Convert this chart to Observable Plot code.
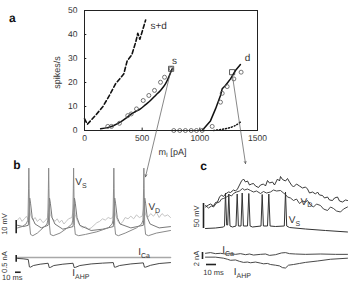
<!DOCTYPE html>
<html><head><meta charset="utf-8">
<script src="https://cdn.jsdelivr.net/npm/d3@7"></script>
<script src="https://cdn.jsdelivr.net/npm/@observablehq/plot@0.6"></script>
<style>
body{margin:0;background:#fff}
#fig{position:relative;width:349px;height:281px;overflow:hidden;background:#fff}
#fig svg{position:absolute;left:0;top:0}
#fig text{text-rendering:geometricPrecision}
</style></head><body><div id="fig"></div>
<script>
// ---------- Panel a: firing rate vs injected current ----------
const xTicks = [0, 500, 1000, 1500];
const yTicks = [0, 10, 20, 30, 40, 50];
const sdCurrent = [0, 25, 90, 160, 215, 270, 340, 370, 410, 445, 462, 480, 530];
const sdRate    = [4.9, 2.6, 6, 10, 14.5, 19.5, 23.5, 29, 31.5, 37, 40.5, 38, 46];
const sCurveCurrent = [140, 200, 254, 320, 370, 410, 440, 485, 530, 572, 620, 659, 702, 760];
const sCurveRate    = [0.7, 1.2, 2.1, 3.8, 5.5, 7, 7.8, 9, 10.8, 12.5, 14.8, 16.7, 19.4, 25.7];
const sObsCurrent = [202, 234, 303, 375, 405, 451, 509, 558, 607, 659, 694, 751];
const sObsRate    = [1.7, 1.7, 3, 6.2, 6.9, 9, 12.5, 14.6, 16.7, 20.1, 22.2, 25.7];
const dCurveCurrent = [1020, 1092, 1136, 1179, 1194, 1222, 1266, 1309, 1352];
const dCurveRate    = [0, 4, 9, 14.6, 17.4, 18.75, 21.5, 25, 27.5];
const dObsCurrent = [774, 826, 875, 925, 971, 1020, 1107, 1179, 1194, 1237, 1295, 1358];
const dObsRate    = [0, 0, 0, 0, 0, 0, 1.7, 11.8, 15.5, 18.3, 21.5, 24.3];
const dDotCurrent = [1120, 1180, 1230, 1280, 1320, 1352];
const dDotRate    = [0, 0.4, 0.8, 1.5, 2.4, 3.5];
const selCurrent = [751, 1280];
const selRate    = [25.7, 24.3];

// ---------- Panel b: traces (t in ms, V in mV, I in nA) ----------
const bVs = [[0,-60],[8,-59],[15,-57],[18.5,-54],[19.5,-30],[20,-14],[20.5,-30],[21.5,-58],[23,-65],[27,-66],[35,-64],[45,-60],[52,-57],[53.5,-54],[54.5,-30],[55,-14],[55.5,-30],[56.5,-58],[58,-65],[63,-66],[75,-64],[88,-60],[96,-57],[97.5,-54],[98.5,-30],[99,-14],[99.5,-30],[100.5,-58],[102,-65],[108,-66],[120,-65],[140,-63],[160,-60],[167,-57],[168.5,-54],[169.5,-30],[170,-14],[170.5,-30],[171.5,-58],[173,-65],[178,-66],[190,-64],[210,-60],[219,-57],[221.5,-54],[222.5,-30],[223,-14],[223.5,-30],[224.5,-58],[226,-65],[231,-66],[245,-64],[270,-62]];
const bVd = [[0,-58],[10,-59],[19,-58],[20.5,-48],[21.5,-37],[23,-41],[26,-52],[31,-57],[42,-60],[54,-58],[55.5,-48],[56.5,-37],[58,-41],[61,-52],[66,-57],[80,-61],[98,-59],[99.5,-48],[100.5,-37],[102,-41],[105,-52],[110,-58],[130,-62],[150,-61],[169,-59],[170.5,-48],[171.5,-37],[173,-41],[176,-52],[181,-57],[200,-60],[222,-58],[223.5,-48],[224.5,-37],[226,-41],[229,-52],[234,-57],[250,-60],[270,-59]];
const bVx = [[0,-54],[4,-52],[8,-55],[12,-53],[16,-51],[19,-54],[21,-42],[23,-50],[27,-54],[31,-52],[35,-55],[40,-53],[45,-56],[50,-54],[53,-52],[56,-42],[58,-50],[62,-53],[66,-55],[70,-53],[74,-56],[78,-54],[82,-57],[86,-55],[90,-53],[96,-52],[100,-42],[102,-50],[106,-55],[110,-58],[115,-60],[120,-59],[125,-61],[130,-60],[135,-58],[140,-56],[145,-55],[150,-53],[155,-54],[160,-52],[165,-53],[169,-51],[171,-42],[173,-50],[177,-55],[182,-57],[186,-55],[190,-52],[195,-53],[200,-51],[205,-53],[210,-50],[215,-52],[220,-51],[224,-42],[226,-50],[230,-52],[235,-49],[240,-51],[245,-48],[250,-52],[255,-49],[260,-51],[265,-50],[270,-52]];
const bICa = [[0,0],[270,0]];
const bIahp = [[0,-0.07],[10,-0.1],[19,-0.15],[21,-0.7],[23,-0.72],[28,-0.6],[40,-0.5],[54,-0.43],[56,-0.75],[58,-0.74],[64,-0.6],[80,-0.5],[98,-0.43],[100,-0.75],[102,-0.74],[110,-0.6],[130,-0.48],[150,-0.42],[169,-0.38],[171,-0.72],[173,-0.72],[180,-0.6],[200,-0.48],[222,-0.4],[224,-0.72],[226,-0.72],[235,-0.58],[250,-0.45],[270,-0.38]];

// ---------- Panel c: traces ----------
const cVd1 = [[0,-22],[3,-18],[5,-16],[8,-20],[10,-13],[12,-12],[14,-2],[16,2],[18,-1],[20,4],[23,8],[25,7],[28,12],[30,10],[32,14],[34,22],[36,30],[38,34],[40,28],[42,30],[44,22],[46,24],[48,25],[50,20],[53,17],[55,22],[58,24],[60,20],[62,31],[64,26],[67,28],[69,22],[72,34],[74,30],[75,39],[77,33],[80,30],[82,35],[84,28],[86,22],[88,18],[91,24],[94,20],[97,16],[100,18],[102,14],[104,6],[107,8],[110,4],[112,8],[114,2],[117,1],[119,-4],[122,-2],[124,-8],[127,-9],[129,-4],[132,-2],[134,-10],[137,-12],[140,-8],[142,-9]];
const cVd2 = [[0,-19],[3,-24],[6,-20],[8,-22],[11,-14],[14,-12],[16,-6],[18,-5],[21,-2],[24,2],[26,0],[28,5],[31,8],[34,10],[37,15],[39,12],[42,14],[45,11],[48,8],[51,10],[55,5],[58,9],[61,6],[65,8],[68,12],[71,10],[75,11],[78,6],[80,3],[82,-2],[85,-4],[88,-9],[91,-6],[94,-15],[97,-10],[100,-12],[102,-9],[105,-18],[108,-22],[111,-16],[115,-19],[118,-26],[122,-29],[125,-22],[128,-25],[131,-30],[135,-32],[138,-26],[142,-22]];
const cVs = [[0,-65],[10,-64],[18,-62],[19,-60],[20,6],[21.2,-58],[22.2,-58],[23.3,4],[24.5,-60],[27,-62],[30.5,-60],[31.7,4],[32.9,-60],[35.5,-60],[36.7,6],[37.9,-60],[42,-60],[43.3,5],[44.6,-60],[47,-62],[55.5,-60],[56.7,3],[57.9,-60],[62,-60],[63.3,4],[64.6,-60],[70,-61],[78.8,-60],[80,8],[81.2,-60],[84,-63],[100,-66],[120,-69],[142,-72]];
const cICa = [[0,0.2],[5,0.4],[10,0.1],[15,0.2],[20,0],[25,0.1],[30,-0.1],[35,0.1],[40,-0.2],[44,0],[48,-0.3],[55,-0.1],[60,0],[64,-0.4],[70,-0.2],[76,0.3],[80,0.4],[84,0.1],[90,0],[100,-0.1],[115,0],[130,-0.1],[142,-0.1]];
const cIahp = [[0,-0.9],[10,-0.9],[18,-1.2],[22,-1.5],[25,-1.8],[30,-1.7],[34,-2.1],[38,-2.4],[42,-2.3],[45,-2.5],[50,-2.3],[55,-2.6],[58,-2.8],[62,-2.7],[65,-3.0],[70,-3.2],[74,-3.4],[77,-3.9],[80,-4.0],[83,-3.2],[88,-3.0],[94,-2.7],[100,-2.4],[112,-2.0],[125,-1.5],[142,-1.2]];

const FONT = "'Liberation Sans', Arial, Helvetica, sans-serif";
const fig = document.getElementById("fig");
const zipXY = (xs, ys) => xs.map((x, i) => ({x, y: ys[i]}));
const pts = a => a.map(([x, y]) => ({x, y}));
const baseStyle = {background: "transparent", overflow: "visible", fontFamily: FONT, color: "#222"};

// ---- panel a ----
const plotA = Plot.plot({
  width: 349, height: 281,
  marginLeft: 84, marginRight: 92, marginTop: 10, marginBottom: 151,
  style: {...baseStyle, fontSize: "8.5px"},
  x: {domain: [0, 1500]},
  y: {domain: [0, 50]},
  marks: [
    Plot.axisX({ticks: xTicks, tickSize: 0, tickPadding: 4, label: null, fill: "#333", tickFormat: d => String(d)}),
    Plot.axisY({ticks: yTicks, tickSize: 0, tickPadding: 7, label: null, fill: "#333", tickFormat: d => String(d)}),
    Plot.ruleX(xTicks, {x: d => d, y1: 0, y2: 1, stroke: "#222"}),
    Plot.ruleY(yTicks, {y: d => d, x1: 0, x2: 20, stroke: "#222"}),
    Plot.line(zipXY(sdCurrent, sdRate), {x: "x", y: "y", stroke: "#111", strokeWidth: 1.6, strokeDasharray: "4,2.5"}),
    Plot.line(zipXY(sCurveCurrent, sCurveRate), {x: "x", y: "y", stroke: "#111", strokeWidth: 1.5, curve: "catmull-rom"}),
    Plot.line(zipXY(dCurveCurrent, dCurveRate), {x: "x", y: "y", stroke: "#111", strokeWidth: 1.5}),
    Plot.line(zipXY(dDotCurrent, dDotRate), {x: "x", y: "y", stroke: "#111", strokeWidth: 1.5, strokeDasharray: "1,2", curve: "catmull-rom"}),
    Plot.dot(zipXY(sObsCurrent, sObsRate), {x: "x", y: "y", r: 2, stroke: "#555", strokeWidth: 0.8}),
    Plot.dot(zipXY(dObsCurrent, dObsRate), {x: "x", y: "y", r: 2, stroke: "#555", strokeWidth: 0.8}),
    Plot.dot(zipXY(selCurrent, selRate), {x: "x", y: "y", r: 2.9, symbol: "square", stroke: "#333", strokeWidth: 0.8}),
    Plot.frame({stroke: "#222", strokeWidth: 1}),
    Plot.arrow([{x1: 745, y1: 24.2, x2: 529, y2: -19.3}, {x1: 1282, y1: 23, x2: 1396, y2: -13.8}],
      {x1: "x1", y1: "y1", x2: "x2", y2: "y2", stroke: "#555", strokeWidth: 0.7, headLength: 5, headAngle: 45}),
    Plot.text([{x: 572, y: 43.75, t: "s+d"}], {x: "x", y: "y", text: "t", textAnchor: "start", fontSize: 10, fill: "#333"}),
    Plot.text([{x: 780, y: 29.2, t: "s"}, {x: 1413, y: 30.4, t: "d"}], {x: "x", y: "y", text: "t", fontSize: 10, fill: "#333"}),
    Plot.text([{x: -234, y: 24.2, t: "spikes/s"}], {x: "x", y: "y", text: "t", rotate: -90, fontSize: 9, fill: "#333"}),
    Plot.text([{x: 763, y: -8.8, t: "m_{I} [pA]"}], {x: "x", y: "y", text: "t", fontSize: 9, fill: "#333"}),
    Plot.text([{x: -625, y: 46.7, t: "a"}], {x: "x", y: "y", text: "t", fontSize: 12, fontWeight: "bold", fill: "#111"})
  ]
});

// ---- panel b voltages ----
const plotBv = Plot.plot({
  width: 349, height: 281, margin: 0,
  style: {...baseStyle, fontSize: "10px"},
  x: {domain: [0, 270], range: [17, 170], axis: null},
  y: {domain: [-62, -12], range: [230, 165], axis: null},
  marks: [
    Plot.line(pts(bVx), {x: "x", y: "y", stroke: "#c4c4c4", strokeWidth: 1}),
    Plot.line(pts(bVd), {x: "x", y: "y", stroke: "#6a6a6a", strokeWidth: 0.9}),
    Plot.line(pts(bVs), {x: "x", y: "y", stroke: "#8a8a8a", strokeWidth: 1}),
    Plot.ruleX([-2.3], {x: d => d, y1: -64.5, y2: -54.3, stroke: "#222", strokeWidth: 1.6}),
    Plot.text([{x: -23, y: -57, t: "10 mV"}], {x: "x", y: "y", text: "t", rotate: -90, fontSize: 7.5, fill: "#333"}),
    Plot.text([{x: 102, y: -24.3, t: "V_{S}"}, {x: 231, y: -43.9, t: "V_{D}"}], {x: "x", y: "y", text: "t", textAnchor: "start", fontSize: 10, fill: "#333"}),
    Plot.text([{x: -0.9, y: -12, t: "b"}], {x: "x", y: "y", text: "t", fontSize: 12, fontWeight: "bold", fill: "#111"})
  ]
});

// ---- panel b currents ----
const plotBi = Plot.plot({
  width: 349, height: 281, margin: 0,
  style: {...baseStyle, fontSize: "10px"},
  x: {domain: [0, 270], range: [17, 170], axis: null},
  y: {domain: [0.5, -1.8], range: [250.3, 281.12], axis: null},
  marks: [
    Plot.line(pts(bICa), {x: "x", y: "y", stroke: "#a8a8a8", strokeWidth: 1.6}),
    Plot.line(pts(bIahp), {x: "x", y: "y", stroke: "#333", strokeWidth: 0.9}),
    Plot.ruleX([-2.3], {x: d => d, y1: 0.15, y2: -0.35, stroke: "#222", strokeWidth: 1.6}),
    Plot.ruleY([-1.1], {y: d => d, x1: -3.5, x2: 6.5, stroke: "#222", strokeWidth: 1.6}),
    Plot.text([{x: -23, y: -0.34, t: "0.5 nA"}], {x: "x", y: "y", text: "t", rotate: -90, fontSize: 7.5, fill: "#333"}),
    Plot.text([{x: -9.3, y: -1.5, t: "10 ms"}], {x: "x", y: "y", text: "t", fontSize: 7.5, fill: "#333"}),
    Plot.text([{x: 213, y: 0.41, t: "I_{Ca}"}, {x: 96.5, y: -1.16, t: "I_{AHP}"}], {x: "x", y: "y", text: "t", textAnchor: "start", fontSize: 10, fill: "#333"})
  ]
});

// ---- panel c voltages ----
const plotCv = Plot.plot({
  width: 349, height: 281, margin: 0,
  style: {...baseStyle, fontSize: "10px"},
  x: {domain: [0, 140], range: [205, 345], axis: null},
  y: {domain: [-65, 60], range: [228, 165.5], axis: null},
  marks: [
    Plot.line(pts(cVs), {x: "x", y: "y", stroke: "#333", strokeWidth: 1}),
    Plot.line(pts(cVd2), {x: "x", y: "y", stroke: "#333", strokeWidth: 0.9}),
    Plot.line(pts(cVd1), {x: "x", y: "y", stroke: "#222", strokeWidth: 0.9}),
    Plot.ruleX([-2], {x: d => d, y1: -65, y2: -15, stroke: "#222", strokeWidth: 1.6}),
    Plot.text([{x: -8.5, y: -40.6, t: "50 mV"}], {x: "x", y: "y", text: "t", rotate: -90, fontSize: 7.5, fill: "#333"}),
    Plot.text([{x: 95, y: -10.6, t: "V_{D}"}, {x: 83.3, y: -48.4, t: "V_{S}"}], {x: "x", y: "y", text: "t", textAnchor: "start", fontSize: 10, fill: "#333"}),
    Plot.text([{x: -2, y: 60, t: "c"}], {x: "x", y: "y", text: "t", fontSize: 12, fontWeight: "bold", fill: "#111"})
  ]
});

// ---- panel c currents ----
const plotCi = Plot.plot({
  width: 349, height: 281, margin: 0,
  style: {...baseStyle, fontSize: "10px"},
  x: {domain: [0, 140], range: [205, 345], axis: null},
  y: {domain: [1, -5.5], range: [250, 272.75], axis: null},
  marks: [
    Plot.line(pts(cICa), {x: "x", y: "y", stroke: "#333", strokeWidth: 0.9}),
    Plot.line(pts(cIahp), {x: "x", y: "y", stroke: "#333", strokeWidth: 0.9}),
    Plot.ruleX([-3], {x: d => d, y1: 0.43, y2: -1.57, stroke: "#222", strokeWidth: 1.6}),
    Plot.ruleY([-3], {y: d => d, x1: 1, x2: 11, stroke: "#222", strokeWidth: 1.6}),
    Plot.text([{x: -9, y: -1.29, t: "2 nA"}], {x: "x", y: "y", text: "t", rotate: -90, fontSize: 7.5, fill: "#333"}),
    Plot.text([{x: 8, y: -5.3, t: "10 ms"}], {x: "x", y: "y", text: "t", fontSize: 7.5, fill: "#333"}),
    Plot.text([{x: 16.7, y: 1.1, t: "I_{Ca}"}, {x: 28.3, y: -5.1, t: "I_{AHP}"}], {x: "x", y: "y", text: "t", textAnchor: "start", fontSize: 10, fill: "#333"})
  ]
});

for (const p of [plotBv, plotBi, plotCv, plotCi, plotA]) fig.appendChild(p);

// subscripts: "X_{sub}" -> tspans
const NS = "http://www.w3.org/2000/svg";
fig.querySelectorAll("text").forEach(el => {
  const s = el.textContent;
  if (!s.includes("_{")) return;
  const fs = parseFloat(getComputedStyle(el).fontSize) || 10;
  while (el.firstChild) el.removeChild(el.firstChild);
  let shifted = false;
  for (const part of s.split(/(_\{[^}]*\})/)) {
    if (!part) continue;
    const t = document.createElementNS(NS, "tspan");
    if (part.startsWith("_{")) {
      t.textContent = part.slice(2, -1);
      t.setAttribute("font-size", (fs * 0.7).toFixed(2));
      t.setAttribute("dy", (fs * 0.3).toFixed(2));
      shifted = true;
    } else {
      t.textContent = part;
      if (shifted) { t.setAttribute("dy", (-fs * 0.3).toFixed(2)); shifted = false; }
    }
    el.appendChild(t);
  }
});
</script></body></html>
